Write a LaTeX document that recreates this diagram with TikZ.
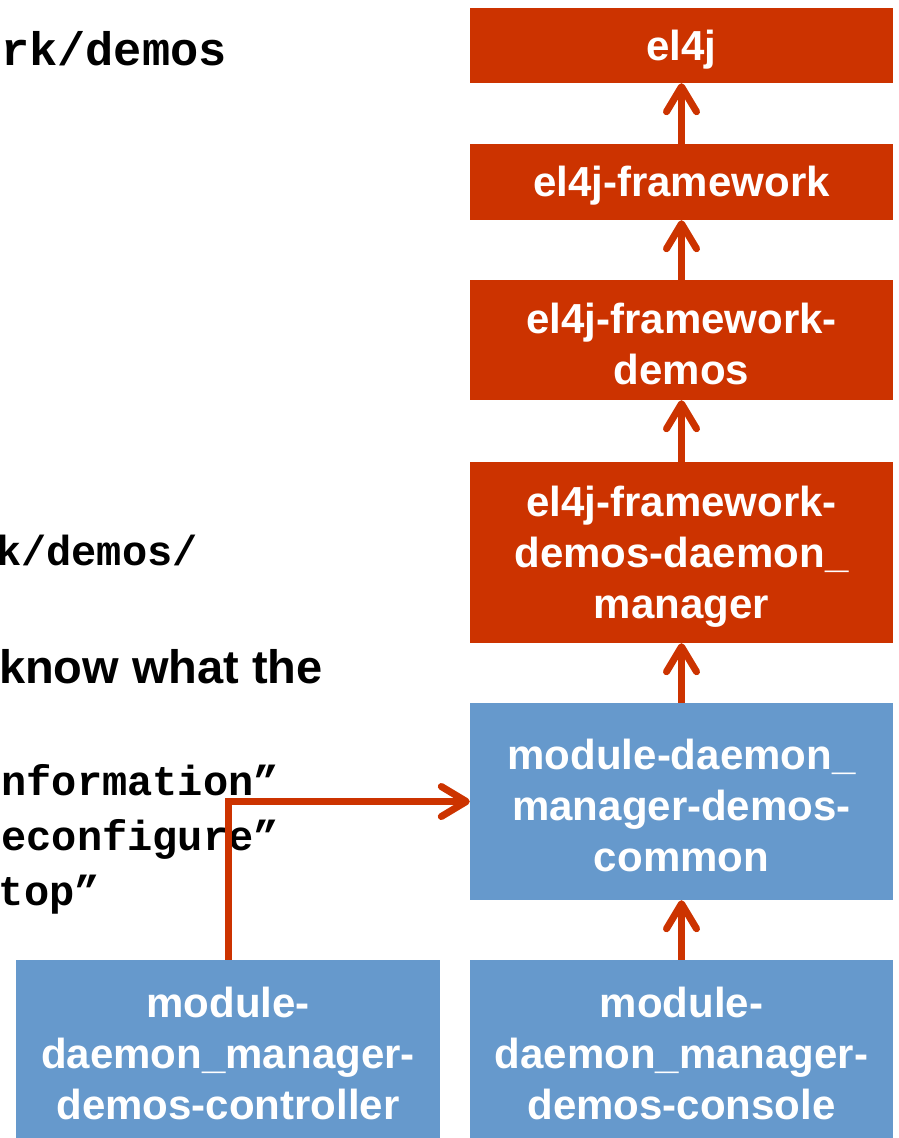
\documentclass[tikz,border=0pt]{standalone}
\usepackage{fontspec}
\setmainfont{Liberation Sans}
\newfontfamily\monof{Liberation Mono}
\usetikzlibrary{arrows.meta}
\definecolor{redb}{RGB}{204,51,0}
\definecolor{blueb}{RGB}{102,153,204}
\begin{document}
\begin{tikzpicture}[x=1pt,y=-1pt,
  box/.style={rectangle,inner sep=0pt,minimum width=423pt},
  redbox/.style={box,fill=redb},
  bluebox/.style={box,fill=blueb},
  boxtext/.style={inner sep=0pt,text=white,align=center,yshift=-4pt,
    font=\bfseries\fontsize{42}{51}\selectfont},
  codetext/.style={anchor=base east,inner sep=0pt,font=\monof\bfseries\fontsize{42}{50}\selectfont},
  arr/.style={draw=redb,line width=7pt,-{Straight Barb[length=25pt,width=30pt,round]}}]
\useasboundingbox (0,0) rectangle (898,1138);
\clip (0,0) rectangle (898,1138);
% left text fragments
\node[codetext,font=\monof\bfseries\fontsize{47}{50}\selectfont] (t1) at (227,65) {rk/demos};
\node[codetext] (t2) at (198,565) {k/demos/};
\node[anchor=base east,inner sep=0pt,font=\bfseries\fontsize{47}{50}\selectfont] (t3) at (323,683) {know what the};
\node[codetext] (t4) at (279,795) {nformation”};
\node[codetext] (t5) at (279,850) {econfigure”};
\node[codetext] (t6) at (100,905) {top”};
% boxes
\node[redbox,minimum height=75pt] (e1) at (681.5,45.5) {};
\node[redbox,minimum height=76pt] (e2) at (681.5,182) {};
\node[redbox,minimum height=120pt] (e3) at (681.5,340) {};
\node[redbox,minimum height=181pt] (e4) at (681.5,552.5) {};
\node[bluebox,minimum height=197pt] (b1) at (681.5,801.5) {};
\node[bluebox,minimum height=178pt] (b2) at (681.5,1049) {};
\node[bluebox,minimum height=178pt,minimum width=424pt] (b3) at (228,1049) {};
% box texts
\node[boxtext] (e1t) at (e1.center) {el4j};
\node[boxtext] (e2t) at (e2.center) {el4j-framework};
\node[boxtext] (e3t) at (e3.center) {el4j-framework-\\demos};
\node[boxtext] (e4t) at (e4.center) {el4j-framework-\\demos-daemon\_\\manager};
\node[boxtext] (b1t) at (b1.center) {module-daemon\_\\manager-demos-\\common};
\node[boxtext] (b2t) at (b2.center) {module-\\daemon\_manager-\\demos-console};
\node[boxtext] (b3t) at (b3.center) {module-\\daemon\_manager-\\demos-controller};
% arrows
\draw[arr] (e2.north) -- (e1.south);
\draw[arr] (e3.north) -- (e2.south);
\draw[arr] (e4.north) -- (e3.south);
\draw[arr] (b1.north) -- (e4.south);
\draw[arr] (b2.north) -- (b1.south);
\draw[arr] (b3.north) |- (b1.west);
\end{tikzpicture}
\end{document}
